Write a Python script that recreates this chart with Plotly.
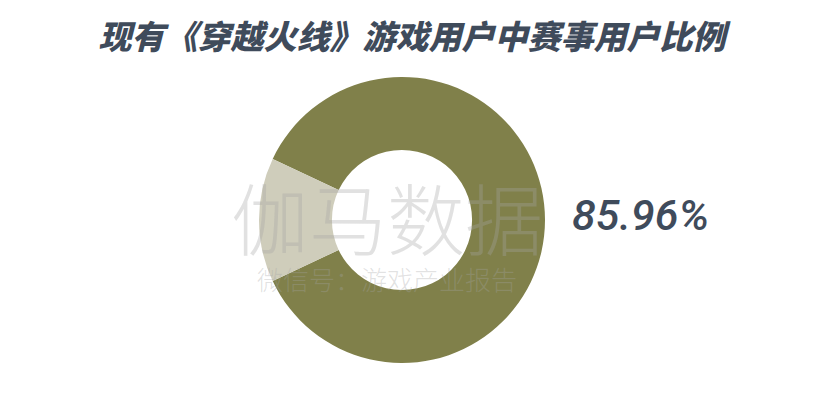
import plotly.graph_objects as go

# Data
labels = ["赛事用户", "非赛事用户"]
values = [85.96, 14.04]
colors = ["#80804A", "#CFCDBB"]
title_text = "现有《穿越火线》游戏用户中赛事用户比例"
watermark_main = "伽马数据"
watermark_sub = "微信号：游戏产业报告"

W, H = 826, 400
OFF = 8  # page body margin offset compensation
cx, cy, r = 402 - OFF, 220 - OFF, 143


def px(x):
    return (x - OFF) / W


def py(y):
    return 1 - (y - OFF) / H


fig = go.Figure(go.Pie(
    labels=labels,
    values=values,
    hole=0.49,
    sort=False,
    direction="clockwise",
    rotation=270 + values[1] / sum(values) * 360 / 2,
    marker=dict(colors=colors, line=dict(width=0)),
    textinfo="none",
    hoverinfo="label+percent",
    showlegend=False,
    domain=dict(x=[(cx - r) / W, (cx + r) / W], y=[(H - cy - r) / H, (H - cy + r) / H]),
))

watermark = (
    f"<span style='font-size:78px'>{watermark_main}</span><br>"
    f"<span style='font-size:26px'>{watermark_sub}</span>"
)

fig.update_layout(
    width=W, height=H,
    margin=dict(l=0, r=0, t=0, b=0),
    paper_bgcolor="white",
    plot_bgcolor="white",
    title=dict(
        text=title_text,
        x=px(412), xanchor="center",
        y=py(37), yanchor="middle",
        font=dict(family="Noto Sans CJK SC", size=33, color="#3F4B5B", weight=900, style="italic"),
    ),
    annotations=[
        dict(
            text=watermark,
            x=px(387), y=py(228), xref="paper", yref="paper",
            xanchor="center", yanchor="middle", showarrow=False, align="center",
            font=dict(family="Noto Sans CJK SC", size=31, color="rgba(165,165,165,0.33)", weight=300),
        ),
        dict(
            text=f"{values[0]:.2f}%",
            x=px(640), y=py(215), xref="paper", yref="paper",
            xanchor="center", yanchor="middle", showarrow=False,
            font=dict(family="Roboto", size=43, color="#3F4B5B", weight=500, style="italic"),
        ),
    ],
)

fig.write_html("out.html")
